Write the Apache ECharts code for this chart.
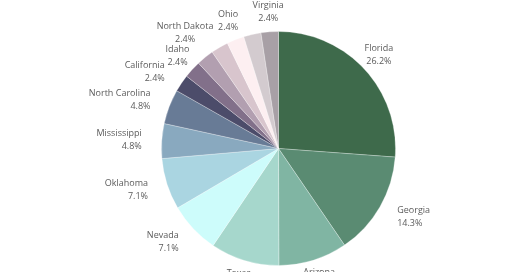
<!DOCTYPE html>
<html>
<head>
<meta charset="utf-8">
<script src="https://cdn.jsdelivr.net/npm/echarts@6/dist/echarts.min.js"></script>
<style>
html,body{margin:0;padding:0;background:#fff;}
#chart{width:520px;height:272px;}
</style>
</head>
<body>
<div id="chart"></div>
<script>
// Share of items by state (percent), clockwise from 12 o'clock.
// Two small slices have no visible label in the reference (names unknown).
const categories = ['Florida','Georgia','Arizona','Texas','Nevada','Oklahoma','Mississippi','North Carolina','California','Idaho','North Dakota','','Ohio','','Virginia'];
const shares = [26.2, 14.3, 9.5, 9.5, 7.1, 7.1, 4.8, 4.8, 2.4, 2.4, 2.4, 2.4, 2.4, 2.4, 2.4];

const colors = ['#3e6a4b','#5a8b72','#80b5a3','#a6d7cc','#cdfcfb','#aad5e1','#89a9bf','#687b96','#4c4c6a','#82708a','#b29fb0','#d8c5cd','#fdeff1','#d3cbcf','#a8a0a6'];

const W = 520, H = 272;
const CX = 278.5, CY = 148.5, R = 117;
const GAP = 20;
const FONT_SIZE = 9, LINE_H = 13, FONT = '"Open Sans", sans-serif';

function labelText(i){
  return categories[i] ? categories[i] + '\n' + shares[i].toFixed(1) + '%' : '';
}

// Precompute label anchor positions from the data (mid-angle of each slice),
// with a simple outward push when a label collides with the previous one.
const total = shares.reduce((a,b)=>a+b,0);
const ctx = document.createElement('canvas').getContext('2d');
ctx.font = FONT_SIZE + 'px ' + FONT;
const labelPos = [];
let acc = 0, prevBox = null;
for (let i = 0; i < shares.length; i++) {
  const mid = (acc + shares[i]/2) / total * Math.PI * 2;
  acc += shares[i];
  const dx = Math.sin(mid), dy = -Math.cos(mid);
  const txt = labelText(i);
  if (!txt) { labelPos.push(null); continue; }
  const w = Math.max(...txt.split('\n').map(s => ctx.measureText(s).width));
  const side = Math.abs(dx) > 0.8 || (dy > 0 && Math.abs(dx) > 0.7);
  const align = side ? (dx > 0 ? 'left' : 'right') : 'center';
  let r = R + GAP, box;
  for (let k = 0; k < 20; k++) {
    const x = CX + r*dx, y = CY + r*dy;
    const x0 = align === 'left' ? x : align === 'right' ? x - w : x - w/2;
    box = {x0, x1: x0 + w, y0: y - 11, y1: y + 11, x, y};
    if (!prevBox || box.x1 <= prevBox.x0 || box.x0 >= prevBox.x1 || box.y1 <= prevBox.y0 || box.y0 >= prevBox.y1) break;
    r += 2;
  }
  prevBox = box;
  labelPos.push({x: box.x, y: box.y, align});
}

const chart = echarts.init(document.getElementById('chart'), null, {renderer: 'canvas'});
chart.setOption({
  backgroundColor: '#ffffff',
  animation: false,
  series: [{
    type: 'pie',
    center: [CX, CY],
    radius: R,
    startAngle: 90,
    clockwise: true,
    avoidLabelOverlap: false,
    data: categories.map((n, i) => ({
      name: n,
      value: shares[i],
      itemStyle: {color: colors[i]}
    })),
    itemStyle: {borderColor: 'rgba(255,255,255,0.55)', borderWidth: 0.5},
    label: {
      show: true,
      position: 'outside',
      formatter: p => labelText(p.dataIndex),
      fontFamily: FONT,
      fontSize: FONT_SIZE,
      lineHeight: LINE_H,
      color: '#5b5b5b',
      align: 'center'
    },
    labelLine: {show: false},
    labelLayout: function (p) {
      const lp = labelPos[p.dataIndex];
      if (!lp) return {};
      return {x: lp.x, y: lp.y, align: lp.align, verticalAlign: 'middle'};
    },
    emphasis: {disabled: true}
  }]
});
</script>
</body>
</html>
